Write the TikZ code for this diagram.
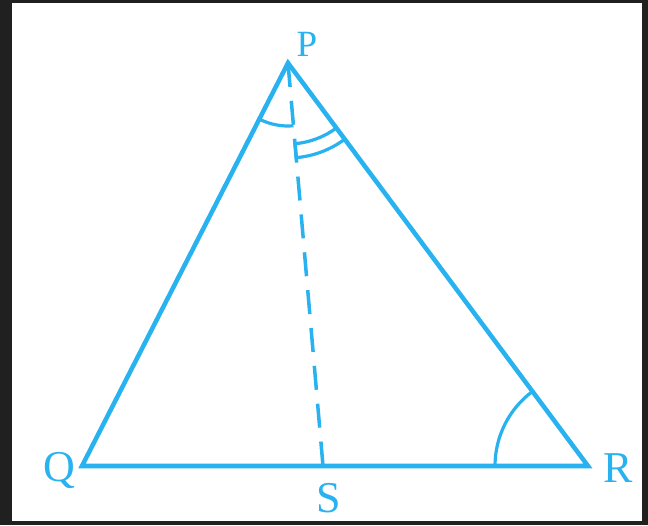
\documentclass[tikz,border=0pt]{standalone}
\usepackage{fontspec}
\setmainfont{Liberation Serif}
\definecolor{figblue}{RGB}{40,178,240}
\definecolor{frame}{RGB}{32,32,32}
\begin{document}
\begin{tikzpicture}[x=1pt,y=1pt,
  edge/.style={draw=figblue,line width=4.5pt,line join=miter},
  dashline/.style={draw=figblue,line width=3.5pt,dash pattern=on 24pt off 14pt},
  anglemark/.style={draw=figblue,line width=3.2pt},
  biglabel/.style={text=figblue,font=\fontsize{44}{44}\selectfont,anchor=base,inner sep=0pt},
  smalllabel/.style={text=figblue,font=\fontsize{37}{37}\selectfont,anchor=base,inner sep=0pt}]
\useasboundingbox (0,0) rectangle (648,525);
\fill[frame] (0,0) rectangle (648,525);
\fill[white] (12,4) rectangle (642,522);
\coordinate (P) at (288,462);
\coordinate (Q) at (82,59);
\coordinate (R) at (588,59);
\coordinate (S) at (323,59);
% triangle
\draw[edge] (P) -- (Q) -- (R) -- cycle;
% dashed bisector
\draw[dashline] (P) -- (S);
% angle at R
\draw[anglemark] ([shift={(180:93)}]R) arc[start angle=180,end angle=126.46,radius=93];
% single arc at P (between PQ and PS)
\draw[anglemark] ([shift={(243.1:63)}]P) arc[start angle=243.1,end angle=274.96,radius=63];
% double arc at P (between PS and PR)
\draw[anglemark] ([shift={(274.96:81)}]P) arc[start angle=274.96,end angle=306.46,radius=81];
\draw[anglemark] ([shift={(274.96:95)}]P) arc[start angle=274.96,end angle=306.46,radius=95];
\draw[anglemark] ([shift={(274.96:79.5)}]P) -- ([shift={(274.96:96.5)}]P);
% labels
\node[smalllabel] (lP) at (307,468) {P};
\node[biglabel] (lQ) at (59,44) {Q};
\node[biglabel] (lR) at (618,43) {R};
\node[biglabel] (lS) at (328.5,13) {S};
\end{tikzpicture}
\end{document}
